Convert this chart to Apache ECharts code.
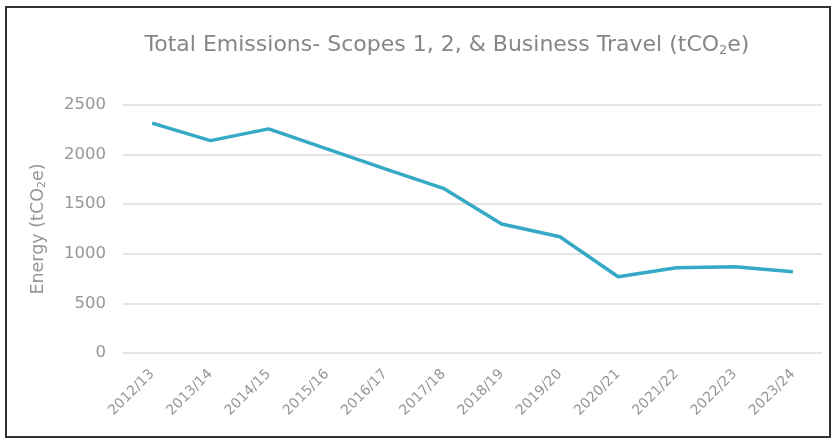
<!DOCTYPE html>
<html>
<head>
<meta charset="utf-8">
<script src="https://cdn.jsdelivr.net/npm/echarts@6/dist/echarts.min.js"></script>
<style>
  html, body { margin: 0; padding: 0; background: #fff; }
  #wrap { position: relative; width: 835px; height: 439px; }
  #chart { position: absolute; left: 0; top: 0; width: 835px; height: 439px; }
  #frame { position: absolute; left: 5px; top: 6px; width: 822px; height: 428px; border: 2px solid #333; pointer-events: none; }
</style>
</head>
<body>
<div id="wrap">
  <div id="chart"></div>
  <div id="frame"></div>
</div>
<script>
// chart data
const years = ['2012/13', '2013/14', '2014/15', '2015/16', '2016/17', '2017/18',
  '2018/19', '2019/20', '2020/21', '2021/22', '2022/23', '2023/24'];
const emissions = [2317, 2141, 2259, 2057, 1857, 1660, 1300, 1172, 768, 859, 869, 818];
const yTicks = [0, 500, 1000, 1500, 2000, 2500];

const font = '"DejaVu Sans", sans-serif';
const grey = '#969696';

const myChart = echarts.init(document.getElementById('chart'));
const option = {
  animation: false,
  title: {
    text: '{t|Total Emissions- Scopes 1, 2, & Business Travel (tCO}{s|2}{t|e)}',
    left: 442,
    top: 29,
    textAlign: 'center',
    textStyle: {
      fontWeight: 'normal',
      rich: {
        t: { fontFamily: font, fontSize: 22, fontWeight: 'normal', color: '#868686' },
        s: { fontFamily: font, fontSize: 13, fontWeight: 'normal', color: '#868686', padding: [10, 0, 0, 0] }
      }
    }
  },
  grid: { left: 123, right: 13, top: 105, bottom: 86 },
  xAxis: {
    type: 'category',
    data: years,
    boundaryGap: true,
    axisLine: { show: false },
    axisTick: { show: false },
    axisLabel: { rotate: 45, color: grey, fontFamily: font, fontSize: 14, margin: 19 }
  },
  yAxis: {
    type: 'value',
    min: yTicks[0],
    max: yTicks[yTicks.length - 1],
    interval: 500,
    name: '{t|Energy (tCO}{s|2}{t|e)}',
    nameLocation: 'middle',
    nameGap: 75,
    nameRotate: 90,
    nameTextStyle: {
      rich: {
        t: { fontFamily: font, fontSize: 17.5, color: grey },
        s: { fontFamily: font, fontSize: 11, color: grey, padding: [8, 0, 0, 0] }
      }
    },
    axisLabel: { color: grey, fontFamily: font, fontSize: 16.5, margin: 17, formatter: v => String(v) },
    splitLine: { lineStyle: { color: '#dcdcdc', width: 1.5 } }
  },
  series: [{
    type: 'line',
    data: emissions,
    symbol: 'none',
    lineStyle: { color: '#35a9c5', width: 3.5 }
  }]
};
option && myChart.setOption(option);
</script>
</body>
</html>
